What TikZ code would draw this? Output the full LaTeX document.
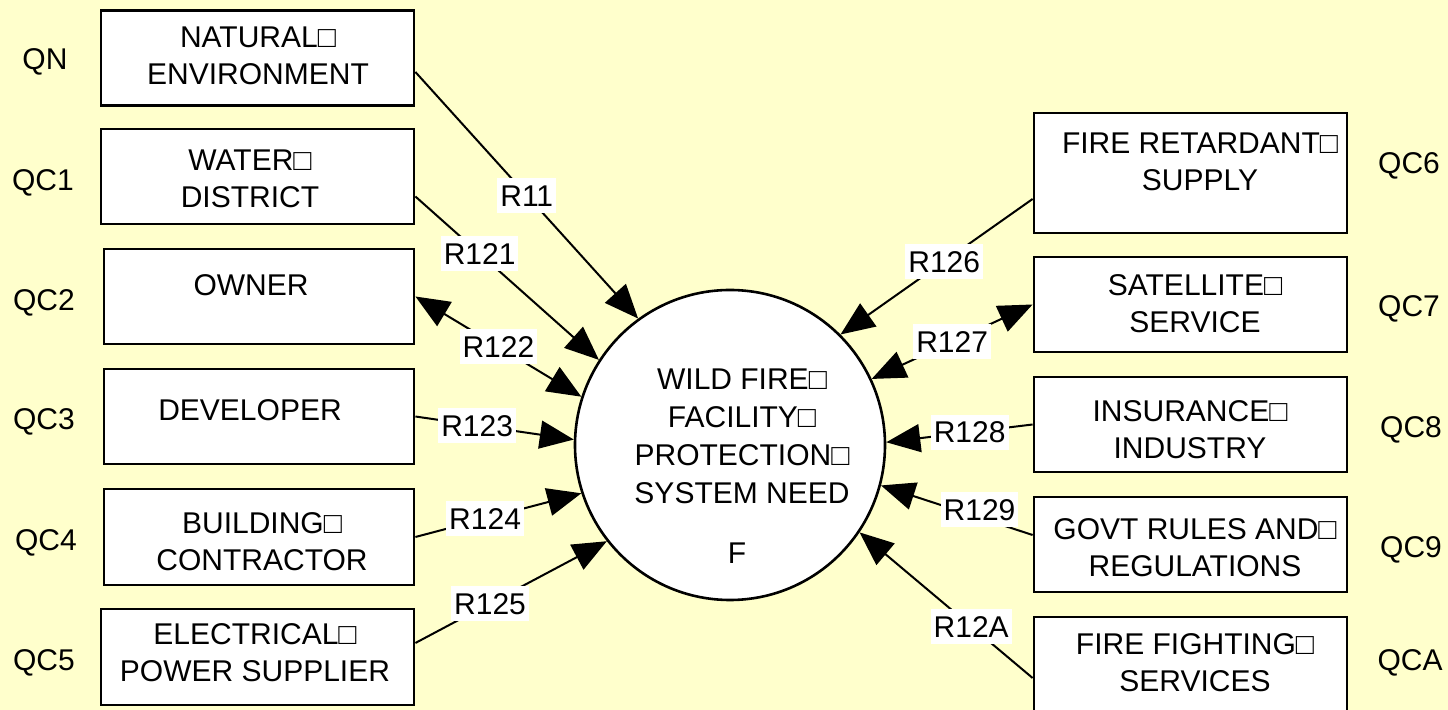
\documentclass[tikz,border=0pt]{standalone}
\usepackage{fontspec}
\setmainfont{Liberation Sans}
\usetikzlibrary{arrows.meta}
\definecolor{bgyellow}{RGB}{255,255,204}
\begin{document}
\begin{tikzpicture}[x=0.5pt,y=-0.5pt,
  every node/.style={font=\fontsize{15}{18.5}\selectfont},
  box/.style={draw, line width=1.4pt, fill=white, rectangle, minimum width=156.5pt, minimum height=47.5pt, inner sep=0pt},
  txt/.style={align=center, inner sep=0pt},
  qlbl/.style={inner sep=0pt},
  rlbl/.style={fill=white, inner xsep=1.5pt, inner ysep=3.3pt, text height=10.8pt, text depth=0pt},
  conn/.style={line width=1pt, -{Triangle[length=17pt,width=14pt]}},
  dconn/.style={line width=1pt, {Triangle[length=17pt,width=14pt]}-{Triangle[length=17pt,width=14pt]}},
]
\useasboundingbox (0,0) rectangle (1448,710);
\fill[bgyellow] (0,0) rectangle (1448,710);

% central circle
\node[draw, circle, line width=1.3pt, fill=white, minimum size=155pt, inner sep=0pt] (c) at (730,445) {};
\node[txt, font=\fontsize{15}{19}\selectfont] (ct) at (742,436.5) {WILD FIRE□\\FACILITY□\\PROTECTION□\\SYSTEM NEED};
\node[txt] (cf) at (737,553) {F};

% left boxes
\node[box] (nat) at (257.5,58) {};
\node[box] (wat) at (257.5,176.5) {};
\node[box, minimum width=155pt] (own) at (259,296.5) {};
\node[box, minimum width=155pt] (dev) at (259,416.5) {};
\node[box, minimum width=155pt, minimum height=48pt] (bld) at (259,537) {};
\node[box, minimum height=48pt] (ele) at (257.5,657) {};

\node[txt] (natt) at (258,55.5) {NATURAL□\\ENVIRONMENT};
\node[txt] (watt) at (250,178.5) {WATER□\\DISTRICT};
\node[txt] (ownt) at (251,285) {OWNER};
\node[txt] (devt) at (250,410) {DEVELOPER};
\node[txt] (bldt) at (262,541.5) {BUILDING□\\CONTRACTOR};
\node[txt] (elet) at (255,653) {ELECTRICAL□\\POWER SUPPLIER};

% right boxes
\node[box, minimum height=60pt] (frs) at (1190.5,173) {};
\node[box] (sat) at (1190.5,304.5) {};
\node[box] (ins) at (1190.5,424.5) {};
\node[box] (gov) at (1190.5,544.5) {};
\node[box] (ffs) at (1190.5,664.5) {};

\node[txt] (frst) at (1200,161.5) {FIRE RETARDANT□\\SUPPLY};
\node[txt] (satt) at (1195,303.5) {SATELLITE□\\SERVICE};
\node[txt] (inst) at (1190,430) {INSURANCE□\\INDUSTRY};
\node[txt] (govt) at (1195,547.5) {GOVT RULES AND□\\REGULATIONS};
\node[txt] (ffst) at (1195,662.5) {FIRE FIGHTING□\\SERVICES};

% Q labels
\node[qlbl] (qn)  at (45,62)  {QN};
\node[qlbl] (qc1) at (43,183) {QC1};
\node[qlbl] (qc2) at (44,303) {QC2};
\node[qlbl] (qc3) at (44,422) {QC3};
\node[qlbl] (qc4) at (46,543) {QC4};
\node[qlbl] (qc5) at (44,663) {QC5};
\node[qlbl] (qc6) at (1409,166) {QC6};
\node[qlbl] (qc7) at (1409,309) {QC7};
\node[qlbl] (qc8) at (1411,430) {QC8};
\node[qlbl] (qc9) at (1411,550) {QC9};
\node[qlbl] (qca) at (1410,663) {QCA};

% connectors
\draw[conn] ([yshift=-7pt]nat.east) -- node[rlbl,pos=0.5] (l11) {R11} (c.126.3);
\draw[conn] ([yshift=-10pt]wat.east) -- node[rlbl,pos=0.35] (l121) {R121} (c.147.3);
\draw[dconn] (own.east) -- node[rlbl,pos=0.5] (l122) {R122} (c.162.2);
\draw[conn] (dev.east) -- node[rlbl,pos=0.39] (l123) {R123} (c.178.2);
\draw[conn] (bld.east) -- node[rlbl,pos=0.42] (l124) {R124} (c.198.3);
\draw[conn] ([yshift=7pt]ele.east) -- node[rlbl,pos=0.39] (l125) {R125} (c.218.3);

\draw[conn] ([yshift=-13pt]frs.west) -- node[rlbl,pos=0.46] (l126) {R126} (c.45.8);
\draw[dconn] (sat.west) -- node[rlbl,pos=0.5] (l127) {R127} (c.25.1);
\draw[conn] (ins.west) -- node[rlbl,pos=0.43] (l128) {R128} (c.1.8);
\draw[conn] ([yshift=4.75pt]gov.west) -- node[rlbl,pos=0.35,yshift=4pt] (l129) {R129} (c.-15.8);
\draw[conn] ([yshift=-6.75pt]ffs.west) -- node[rlbl,pos=0.355] (l12a) {R12A} (c.-34.1);
\end{tikzpicture}
\end{document}
